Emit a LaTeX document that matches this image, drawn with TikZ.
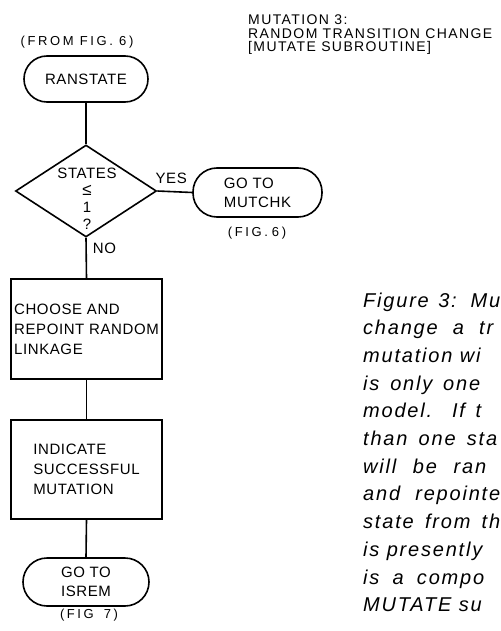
\documentclass[tikz,border=0pt]{standalone}
\usepackage{fontspec}
\setmainfont{Liberation Sans}
\newfontfamily\chartfont[LetterSpace=4]{Liberation Sans}
\newfontfamily\titlefont[LetterSpace=10]{Liberation Sans}
\newfontfamily\reffont[LetterSpace=20]{Liberation Sans}
\newfontfamily\capfont[LetterSpace=9]{Liberation Sans}
\usetikzlibrary{positioning, shapes.geometric}
\tikzset{
  terminal/.style={
    rectangle,
    rounded corners=23pt,
    draw,
    line width=1.6pt,
    align=left,
    inner sep=0pt,
    font=\chartfont\fontsize{15pt}{19pt}\selectfont
  },
  process/.style={
    rectangle,
    draw,
    line width=1.6pt,
    align=left,
    inner sep=0pt,
    minimum width=151pt,
    font=\chartfont\fontsize{15pt}{20pt}\selectfont
  },
  decision/.style={
    diamond,
    draw,
    line width=1.6pt,
    inner sep=0pt,
    minimum width=141pt,
    minimum height=92pt
  },
  chartlabel/.style={font=\chartfont\fontsize{15pt}{17pt}\selectfont, align=center, inner sep=0pt},
  reflabel/.style={font=\reffont\fontsize{13pt}{15pt}\selectfont, inner sep=0pt},
  caption/.style={font=\capfont\itshape\fontsize{20pt}{24pt}\selectfont, anchor=base west, inner sep=0pt},
  line/.style={line width=1.6pt}
}
\begin{document}
\begin{tikzpicture}[x=1pt,y=-1pt]
\useasboundingbox (0,0) rectangle (500,631);
% heading
\node[font=\titlefont\fontsize{14pt}{13.5pt}\selectfont, align=left, anchor=north west, inner sep=0pt] (heading) at (248,15)
  {MUTATION 3:\\RANDOM TRANSITION CHANGE\\{[}MUTATE SUBROUTINE{]}};

% flow chart
\node[reflabel] (fromfig) at (77,42) {(FROM FIG. 6)};
\node[terminal, minimum width=124pt, minimum height=46pt] (ranstate) at (86,79) {RANSTATE};
\node[decision] (decision) at (86,191) {};
\node[chartlabel] (decisiontext) at (87,199) {STATES\\{\fontsize{17pt}{17pt}\selectfont ≤}\\1\\?};
\node[terminal, minimum width=129pt, minimum height=49pt, rounded corners=24pt] (mutchk) at (257.5,192.5) {GO TO\\MUTCHK};
\node[reflabel] (mutchkref) at (257,233) {(FIG.\hspace{4pt}6)};
\node[process, minimum height=100pt] (choose) at (86.5,329) {CHOOSE AND\\REPOINT RANDOM\\LINKAGE};
\node[process, minimum height=99pt] (indicate) at (86.5,469.5) {INDICATE\\SUCCESSFUL\\MUTATION};
\node[terminal, minimum width=126pt, minimum height=48pt, rounded corners=24pt] (isrem) at (86,582) {GO TO\\ISREM};
\node[reflabel] (isremref) at (89,615) {(FIG\hspace{10pt}7)};

\draw[line] (ranstate.south) -- (decision.north);
\draw[line] (decision.east) -- node[chartlabel, above=7pt, pos=0.4] {YES} (mutchk.west);
\draw[line] (decision.south) -- node[chartlabel, right=6pt, pos=0.26] {NO} (choose.north);
\draw[line] (choose.south) -- (indicate.north);
\draw[line] (indicate.south) -- (isrem.north);

% caption
\node[caption] (cap1) at (363,307) {\makebox[137pt][s]{Figure 3: Mu}};
\node[caption] (cap2) at (363,334.7) {\makebox[130pt][s]{change a tr}};
\node[caption] (cap3) at (363,362.4) {mutation wi};
\node[caption] (cap4) at (363,390.1) {\makebox[117pt][s]{is only one}};
\node[caption] (cap5) at (363,417.8) {\makebox[118pt][s]{model. If t}};
\node[caption] (cap6) at (363,445.5) {\makebox[134pt][s]{than one sta}};
\node[caption] (cap7) at (363,473.2) {\makebox[123pt][s]{will be ran}};
\node[caption] (cap8) at (363,500.9) {\makebox[137pt][s]{and repointe}};
\node[caption] (cap9) at (363,528.6) {\makebox[137pt][s]{state from th}};
\node[caption] (cap10) at (363,556.3) {is presently};
\node[caption] (cap11) at (363,584) {\makebox[121pt][s]{is a compo}};
\node[caption] (cap12) at (363,611.7) {MUTATE su};
\end{tikzpicture}
\end{document}
